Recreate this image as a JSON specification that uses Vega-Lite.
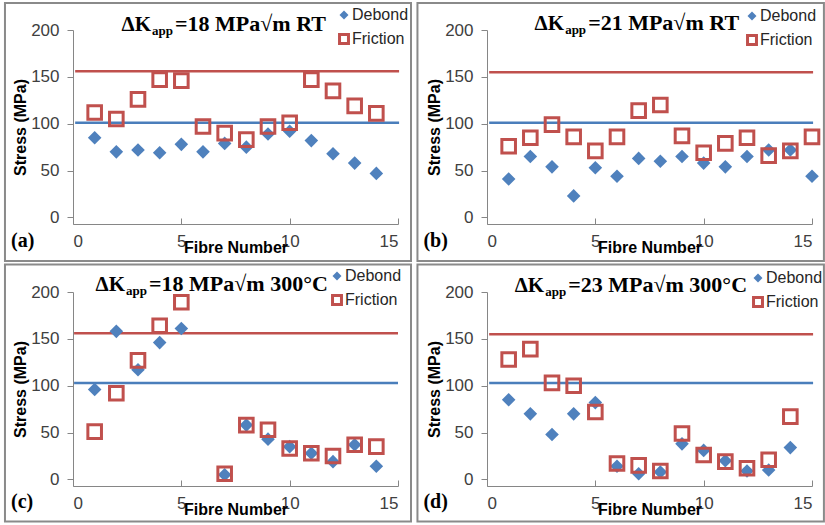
{
  "$schema": "https://vega.github.io/schema/vega-lite/v6.json",
  "background": "white",
  "padding": {"left": 3, "top": 2, "right": 0, "bottom": 0},
  "datasets": {
    "points": [
      {"panel": "a", "series": "Debond", "fibre": 1, "stress": 85},
      {"panel": "a", "series": "Debond", "fibre": 2, "stress": 70},
      {"panel": "a", "series": "Debond", "fibre": 3, "stress": 72},
      {"panel": "a", "series": "Debond", "fibre": 4, "stress": 69},
      {"panel": "a", "series": "Debond", "fibre": 5, "stress": 78},
      {"panel": "a", "series": "Debond", "fibre": 6, "stress": 70},
      {"panel": "a", "series": "Debond", "fibre": 7, "stress": 79},
      {"panel": "a", "series": "Debond", "fibre": 8, "stress": 75},
      {"panel": "a", "series": "Debond", "fibre": 9, "stress": 89},
      {"panel": "a", "series": "Debond", "fibre": 10, "stress": 92},
      {"panel": "a", "series": "Debond", "fibre": 11, "stress": 82},
      {"panel": "a", "series": "Debond", "fibre": 12, "stress": 68},
      {"panel": "a", "series": "Debond", "fibre": 13, "stress": 58},
      {"panel": "a", "series": "Debond", "fibre": 14, "stress": 47},
      {"panel": "a", "series": "Friction", "fibre": 1, "stress": 112},
      {"panel": "a", "series": "Friction", "fibre": 2, "stress": 105},
      {"panel": "a", "series": "Friction", "fibre": 3, "stress": 126},
      {"panel": "a", "series": "Friction", "fibre": 4, "stress": 147},
      {"panel": "a", "series": "Friction", "fibre": 5, "stress": 146},
      {"panel": "a", "series": "Friction", "fibre": 6, "stress": 97},
      {"panel": "a", "series": "Friction", "fibre": 7, "stress": 90},
      {"panel": "a", "series": "Friction", "fibre": 8, "stress": 83},
      {"panel": "a", "series": "Friction", "fibre": 9, "stress": 97},
      {"panel": "a", "series": "Friction", "fibre": 10, "stress": 101},
      {"panel": "a", "series": "Friction", "fibre": 11, "stress": 147},
      {"panel": "a", "series": "Friction", "fibre": 12, "stress": 135},
      {"panel": "a", "series": "Friction", "fibre": 13, "stress": 119},
      {"panel": "a", "series": "Friction", "fibre": 14, "stress": 111},
      {"panel": "b", "series": "Debond", "fibre": 1, "stress": 41},
      {"panel": "b", "series": "Debond", "fibre": 2, "stress": 65},
      {"panel": "b", "series": "Debond", "fibre": 3, "stress": 54},
      {"panel": "b", "series": "Debond", "fibre": 4, "stress": 23},
      {"panel": "b", "series": "Debond", "fibre": 5, "stress": 53},
      {"panel": "b", "series": "Debond", "fibre": 6, "stress": 44},
      {"panel": "b", "series": "Debond", "fibre": 7, "stress": 63},
      {"panel": "b", "series": "Debond", "fibre": 8, "stress": 60},
      {"panel": "b", "series": "Debond", "fibre": 9, "stress": 65},
      {"panel": "b", "series": "Debond", "fibre": 10, "stress": 58},
      {"panel": "b", "series": "Debond", "fibre": 11, "stress": 54},
      {"panel": "b", "series": "Debond", "fibre": 12, "stress": 65},
      {"panel": "b", "series": "Debond", "fibre": 13, "stress": 72},
      {"panel": "b", "series": "Debond", "fibre": 14, "stress": 72},
      {"panel": "b", "series": "Debond", "fibre": 15, "stress": 44},
      {"panel": "b", "series": "Friction", "fibre": 1, "stress": 76},
      {"panel": "b", "series": "Friction", "fibre": 2, "stress": 85},
      {"panel": "b", "series": "Friction", "fibre": 3, "stress": 99},
      {"panel": "b", "series": "Friction", "fibre": 4, "stress": 86},
      {"panel": "b", "series": "Friction", "fibre": 5, "stress": 71},
      {"panel": "b", "series": "Friction", "fibre": 6, "stress": 86},
      {"panel": "b", "series": "Friction", "fibre": 7, "stress": 114},
      {"panel": "b", "series": "Friction", "fibre": 8, "stress": 120},
      {"panel": "b", "series": "Friction", "fibre": 9, "stress": 87},
      {"panel": "b", "series": "Friction", "fibre": 10, "stress": 69},
      {"panel": "b", "series": "Friction", "fibre": 11, "stress": 79},
      {"panel": "b", "series": "Friction", "fibre": 12, "stress": 85},
      {"panel": "b", "series": "Friction", "fibre": 13, "stress": 66},
      {"panel": "b", "series": "Friction", "fibre": 14, "stress": 71},
      {"panel": "b", "series": "Friction", "fibre": 15, "stress": 86},
      {"panel": "c", "series": "Debond", "fibre": 1, "stress": 96},
      {"panel": "c", "series": "Debond", "fibre": 2, "stress": 158},
      {"panel": "c", "series": "Debond", "fibre": 3, "stress": 117},
      {"panel": "c", "series": "Debond", "fibre": 4, "stress": 146},
      {"panel": "c", "series": "Debond", "fibre": 5, "stress": 161},
      {"panel": "c", "series": "Debond", "fibre": 7, "stress": 5},
      {"panel": "c", "series": "Debond", "fibre": 8, "stress": 58},
      {"panel": "c", "series": "Debond", "fibre": 9, "stress": 43},
      {"panel": "c", "series": "Debond", "fibre": 10, "stress": 35},
      {"panel": "c", "series": "Debond", "fibre": 11, "stress": 28},
      {"panel": "c", "series": "Debond", "fibre": 12, "stress": 19},
      {"panel": "c", "series": "Debond", "fibre": 13, "stress": 37},
      {"panel": "c", "series": "Debond", "fibre": 14, "stress": 14},
      {"panel": "c", "series": "Friction", "fibre": 1, "stress": 51},
      {"panel": "c", "series": "Friction", "fibre": 2, "stress": 92},
      {"panel": "c", "series": "Friction", "fibre": 3, "stress": 127},
      {"panel": "c", "series": "Friction", "fibre": 4, "stress": 164},
      {"panel": "c", "series": "Friction", "fibre": 5, "stress": 189},
      {"panel": "c", "series": "Friction", "fibre": 7, "stress": 6},
      {"panel": "c", "series": "Friction", "fibre": 8, "stress": 58},
      {"panel": "c", "series": "Friction", "fibre": 9, "stress": 53},
      {"panel": "c", "series": "Friction", "fibre": 10, "stress": 33},
      {"panel": "c", "series": "Friction", "fibre": 11, "stress": 28},
      {"panel": "c", "series": "Friction", "fibre": 12, "stress": 25},
      {"panel": "c", "series": "Friction", "fibre": 13, "stress": 37},
      {"panel": "c", "series": "Friction", "fibre": 14, "stress": 35},
      {"panel": "d", "series": "Debond", "fibre": 1, "stress": 85},
      {"panel": "d", "series": "Debond", "fibre": 2, "stress": 70},
      {"panel": "d", "series": "Debond", "fibre": 3, "stress": 48},
      {"panel": "d", "series": "Debond", "fibre": 4, "stress": 70},
      {"panel": "d", "series": "Debond", "fibre": 5, "stress": 82},
      {"panel": "d", "series": "Debond", "fibre": 6, "stress": 14},
      {"panel": "d", "series": "Debond", "fibre": 7, "stress": 6},
      {"panel": "d", "series": "Debond", "fibre": 8, "stress": 8},
      {"panel": "d", "series": "Debond", "fibre": 9, "stress": 38},
      {"panel": "d", "series": "Debond", "fibre": 10, "stress": 31},
      {"panel": "d", "series": "Debond", "fibre": 11, "stress": 20},
      {"panel": "d", "series": "Debond", "fibre": 12, "stress": 9},
      {"panel": "d", "series": "Debond", "fibre": 13, "stress": 10},
      {"panel": "d", "series": "Debond", "fibre": 14, "stress": 34},
      {"panel": "d", "series": "Friction", "fibre": 1, "stress": 128},
      {"panel": "d", "series": "Friction", "fibre": 2, "stress": 139},
      {"panel": "d", "series": "Friction", "fibre": 3, "stress": 103},
      {"panel": "d", "series": "Friction", "fibre": 4, "stress": 100},
      {"panel": "d", "series": "Friction", "fibre": 5, "stress": 72},
      {"panel": "d", "series": "Friction", "fibre": 6, "stress": 17},
      {"panel": "d", "series": "Friction", "fibre": 7, "stress": 15},
      {"panel": "d", "series": "Friction", "fibre": 8, "stress": 9},
      {"panel": "d", "series": "Friction", "fibre": 9, "stress": 49},
      {"panel": "d", "series": "Friction", "fibre": 10, "stress": 26},
      {"panel": "d", "series": "Friction", "fibre": 11, "stress": 19},
      {"panel": "d", "series": "Friction", "fibre": 12, "stress": 12},
      {"panel": "d", "series": "Friction", "fibre": 13, "stress": 21},
      {"panel": "d", "series": "Friction", "fibre": 14, "stress": 67}
    ],
    "lines": [
      {"panel": "a", "series": "Debond", "stress": 101},
      {"panel": "a", "series": "Friction", "stress": 156},
      {"panel": "b", "series": "Debond", "stress": 101},
      {"panel": "b", "series": "Friction", "stress": 155},
      {"panel": "c", "series": "Debond", "stress": 103},
      {"panel": "c", "series": "Friction", "stress": 156},
      {"panel": "d", "series": "Debond", "stress": 103},
      {"panel": "d", "series": "Friction", "stress": 155}
    ],
    "titles": [
      {"panel": "a", "rest": "=18 MPa√m RT"},
      {"panel": "b", "rest": "=21 MPa√m RT"},
      {"panel": "c", "rest": "=18 MPa√m 300°C"},
      {"panel": "d", "rest": "=23 MPa√m 300°C"}
    ]
  },
  "config": {
    "view": {"stroke": null},
    "axis": {
      "grid": false,
      "domainColor": "#868686",
      "tickColor": "#868686",
      "labelFont": "Liberation Sans",
      "labelFontSize": 17,
      "labelColor": "#404040",
      "titleFont": "Liberation Sans",
      "titleFontSize": 16,
      "titleFontWeight": "bold",
      "titleColor": "black"
    },
    "legend": {
      "orient": "none",
      "title": null,
      "labelFont": "Liberation Sans",
      "labelFontSize": 16,
      "labelColor": "#262626",
      "rowPadding": 2,
      "labelOffset": 0,
      "symbolSize": 80,
      "symbolStrokeWidth": 3,
      "padding": 0
    },
    "title": {
      "font": "Liberation Serif",
      "fontSize": 20,
      "fontWeight": "bold",
      "color": "black",
      "orient": "bottom",
      "anchor": "start",
      "frame": "bounds",
      "offset": -31
    }
  },
  "columns": 2,
  "bounds": "flush",
  "spacing": {"row": 68, "column": 89},
  "resolve": {"legend": {"fill": "independent", "stroke": "independent", "shape": "independent"}},
  "concat": [
    {
      "width": 325, "height": 194,
      "title": {"text": "(a)", "dx": 7},
      "layer": [
        {
          "data": {"name": "titles"},
          "transform": [{"filter": "datum.panel === 'a'"}],
          "mark": {"type": "rect", "fillOpacity": 0, "stroke": "#8A8A8A", "strokeWidth": 2},
          "encoding": {"x": {"datum": -3.14, "type": "quantitative"}, "x2": {"datum": 15.6}, "y": {"datum": 228.8, "type": "quantitative"}, "y2": {"datum": -46.5}}
        },
        {
          "data": {"name": "lines"},
          "transform": [{"filter": "datum.panel === 'a'"}],
          "mark": {"type": "rule", "strokeWidth": 2.5},
          "encoding": {
            "x": {"datum": 0.1, "type": "quantitative"},
            "x2": {"datum": 15.05},
            "y": {"field": "stress", "type": "quantitative"},
            "color": {"field": "series", "type": "nominal", "scale": {"domain": ["Debond", "Friction"], "range": ["#4A7EBB", "#C0504D"]}, "legend": null}
          }
        },
        {
          "data": {"name": "points"},
          "transform": [{"filter": "datum.panel === 'a'"}],
          "mark": {"type": "point", "opacity": 1, "strokeWidth": 3, "size": 185},
          "encoding": {
            "x": {"field": "fibre", "type": "quantitative", "scale": {"domain": [0, 15], "nice": false},
                  "axis": {"values": [0, 5, 10, 15], "title": "Fibre Number", "tickSize": -6, "labelPadding": 15, "titlePadding": -10}},
            "y": {"field": "stress", "type": "quantitative", "scale": {"domain": [-7, 200], "nice": false},
                  "axis": {"values": [0, 50, 100, 150, 200], "title": "Stress (MPa)", "tickSize": 6, "labelPadding": 8, "titlePadding": 2}},
            "shape": {"field": "series", "type": "nominal", "scale": {"domain": ["Debond", "Friction"], "range": ["diamond", "square"]},
                      "legend": {"legendX": 263, "legendY": -23}},
            "fill": {"field": "series", "type": "nominal", "scale": {"domain": ["Debond", "Friction"], "range": ["#4F81BD", "transparent"]}},
            "stroke": {"field": "series", "type": "nominal", "scale": {"domain": ["Debond", "Friction"], "range": ["transparent", "#C0504D"]}}
          }
        },
        {
          "data": {"name": "titles"},
          "transform": [{"filter": "datum.panel === 'a'"}],
          "mark": {"type": "text", "font": "Liberation Serif", "fontSize": 21, "fontWeight": "bold", "align": "right", "baseline": "alphabetic", "color": "black"},
          "encoding": {"x": {"datum": 3.6}, "y": {"datum": 198.5}, "text": {"value": "ΔK"}}
        },
        {
          "data": {"name": "titles"},
          "transform": [{"filter": "datum.panel === 'a'"}],
          "mark": {"type": "text", "font": "Liberation Serif", "fontSize": 13, "fontWeight": "bold", "align": "left", "baseline": "alphabetic", "color": "black", "dx": 1, "dy": 4},
          "encoding": {"x": {"datum": 3.6}, "y": {"datum": 198.5}, "text": {"value": "app"}}
        },
        {
          "data": {"name": "titles"},
          "transform": [{"filter": "datum.panel === 'a'"}],
          "mark": {"type": "text", "font": "Liberation Serif", "fontSize": 22, "fontWeight": "bold", "align": "left", "baseline": "alphabetic", "color": "black", "dx": 24},
          "encoding": {"x": {"datum": 3.6}, "y": {"datum": 198.5}, "text": {"field": "rest"}}
        }
      ]
    },
    {
      "width": 325, "height": 194,
      "title": {"text": "(b)", "dx": 7},
      "layer": [
        {
          "data": {"name": "titles"},
          "transform": [{"filter": "datum.panel === 'b'"}],
          "mark": {"type": "rect", "fillOpacity": 0, "stroke": "#8A8A8A", "strokeWidth": 2},
          "encoding": {"x": {"datum": -3.21, "type": "quantitative"}, "x2": {"datum": 15.55}, "y": {"datum": 228.8, "type": "quantitative"}, "y2": {"datum": -46.5}}
        },
        {
          "data": {"name": "lines"},
          "transform": [{"filter": "datum.panel === 'b'"}],
          "mark": {"type": "rule", "strokeWidth": 2.5},
          "encoding": {
            "x": {"datum": 0.1, "type": "quantitative"},
            "x2": {"datum": 15.05},
            "y": {"field": "stress", "type": "quantitative"},
            "color": {"field": "series", "type": "nominal", "scale": {"domain": ["Debond", "Friction"], "range": ["#4A7EBB", "#C0504D"]}, "legend": null}
          }
        },
        {
          "data": {"name": "points"},
          "transform": [{"filter": "datum.panel === 'b'"}],
          "mark": {"type": "point", "opacity": 1, "strokeWidth": 3, "size": 185},
          "encoding": {
            "x": {"field": "fibre", "type": "quantitative", "scale": {"domain": [0, 15], "nice": false},
                  "axis": {"values": [0, 5, 10, 15], "title": "Fibre Number", "tickSize": -6, "labelPadding": 15, "titlePadding": -10}},
            "y": {"field": "stress", "type": "quantitative", "scale": {"domain": [-7, 200], "nice": false},
                  "axis": {"values": [0, 50, 100, 150, 200], "title": "Stress (MPa)", "tickSize": 6, "labelPadding": 8, "titlePadding": 2}},
            "shape": {"field": "series", "type": "nominal", "scale": {"domain": ["Debond", "Friction"], "range": ["diamond", "square"]},
                      "legend": {"legendX": 257, "legendY": -22}},
            "fill": {"field": "series", "type": "nominal", "scale": {"domain": ["Debond", "Friction"], "range": ["#4F81BD", "transparent"]}},
            "stroke": {"field": "series", "type": "nominal", "scale": {"domain": ["Debond", "Friction"], "range": ["transparent", "#C0504D"]}}
          }
        },
        {
          "data": {"name": "titles"},
          "transform": [{"filter": "datum.panel === 'b'"}],
          "mark": {"type": "text", "font": "Liberation Serif", "fontSize": 21, "fontWeight": "bold", "align": "right", "baseline": "alphabetic", "color": "black"},
          "encoding": {"x": {"datum": 3.56}, "y": {"datum": 199.5}, "text": {"value": "ΔK"}}
        },
        {
          "data": {"name": "titles"},
          "transform": [{"filter": "datum.panel === 'b'"}],
          "mark": {"type": "text", "font": "Liberation Serif", "fontSize": 13, "fontWeight": "bold", "align": "left", "baseline": "alphabetic", "color": "black", "dx": 1, "dy": 4},
          "encoding": {"x": {"datum": 3.56}, "y": {"datum": 199.5}, "text": {"value": "app"}}
        },
        {
          "data": {"name": "titles"},
          "transform": [{"filter": "datum.panel === 'b'"}],
          "mark": {"type": "text", "font": "Liberation Serif", "fontSize": 22, "fontWeight": "bold", "align": "left", "baseline": "alphabetic", "color": "black", "dx": 24},
          "encoding": {"x": {"datum": 3.56}, "y": {"datum": 199.5}, "text": {"field": "rest"}}
        }
      ]
    },
    {
      "width": 325, "height": 194,
      "title": {"text": "(c)", "dx": 7},
      "layer": [
        {
          "data": {"name": "titles"},
          "transform": [{"filter": "datum.panel === 'c'"}],
          "mark": {"type": "rect", "fillOpacity": 0, "stroke": "#8A8A8A", "strokeWidth": 2},
          "encoding": {"x": {"datum": -3.14, "type": "quantitative"}, "x2": {"datum": 15.6}, "y": {"datum": 229.3, "type": "quantitative"}, "y2": {"datum": -45}}
        },
        {
          "data": {"name": "lines"},
          "transform": [{"filter": "datum.panel === 'c'"}],
          "mark": {"type": "rule", "strokeWidth": 2.5},
          "encoding": {
            "x": {"datum": 0.05, "type": "quantitative"},
            "x2": {"datum": 15},
            "y": {"field": "stress", "type": "quantitative"},
            "color": {"field": "series", "type": "nominal", "scale": {"domain": ["Debond", "Friction"], "range": ["#4A7EBB", "#C0504D"]}, "legend": null}
          }
        },
        {
          "data": {"name": "points"},
          "transform": [{"filter": "datum.panel === 'c'"}],
          "mark": {"type": "point", "opacity": 1, "strokeWidth": 3, "size": 185},
          "encoding": {
            "x": {"field": "fibre", "type": "quantitative", "scale": {"domain": [0, 15], "nice": false},
                  "axis": {"values": [0, 5, 10, 15], "title": "Fibre Number", "tickSize": -6, "labelPadding": 15, "titlePadding": -10}},
            "y": {"field": "stress", "type": "quantitative", "scale": {"domain": [-7, 200], "nice": false},
                  "axis": {"values": [0, 50, 100, 150, 200], "title": "Stress (MPa)", "tickSize": 6, "labelPadding": 8, "titlePadding": 2}},
            "shape": {"field": "series", "type": "nominal", "scale": {"domain": ["Debond", "Friction"], "range": ["diamond", "square"]},
                      "legend": {"legendX": 256, "legendY": -24}},
            "fill": {"field": "series", "type": "nominal", "scale": {"domain": ["Debond", "Friction"], "range": ["#4F81BD", "transparent"]}},
            "stroke": {"field": "series", "type": "nominal", "scale": {"domain": ["Debond", "Friction"], "range": ["transparent", "#C0504D"]}}
          }
        },
        {
          "data": {"name": "titles"},
          "transform": [{"filter": "datum.panel === 'c'"}],
          "mark": {"type": "text", "font": "Liberation Serif", "fontSize": 21, "fontWeight": "bold", "align": "right", "baseline": "alphabetic", "color": "black"},
          "encoding": {"x": {"datum": 2.4}, "y": {"datum": 201}, "text": {"value": "ΔK"}}
        },
        {
          "data": {"name": "titles"},
          "transform": [{"filter": "datum.panel === 'c'"}],
          "mark": {"type": "text", "font": "Liberation Serif", "fontSize": 13, "fontWeight": "bold", "align": "left", "baseline": "alphabetic", "color": "black", "dx": 1, "dy": 4},
          "encoding": {"x": {"datum": 2.4}, "y": {"datum": 201}, "text": {"value": "app"}}
        },
        {
          "data": {"name": "titles"},
          "transform": [{"filter": "datum.panel === 'c'"}],
          "mark": {"type": "text", "font": "Liberation Serif", "fontSize": 22, "fontWeight": "bold", "align": "left", "baseline": "alphabetic", "color": "black", "dx": 24},
          "encoding": {"x": {"datum": 2.4}, "y": {"datum": 201}, "text": {"field": "rest"}}
        }
      ]
    },
    {
      "width": 325, "height": 194,
      "title": {"text": "(d)", "dx": 7},
      "layer": [
        {
          "data": {"name": "titles"},
          "transform": [{"filter": "datum.panel === 'd'"}],
          "mark": {"type": "rect", "fillOpacity": 0, "stroke": "#8A8A8A", "strokeWidth": 2},
          "encoding": {"x": {"datum": -3.21, "type": "quantitative"}, "x2": {"datum": 15.55}, "y": {"datum": 229.3, "type": "quantitative"}, "y2": {"datum": -45}}
        },
        {
          "data": {"name": "lines"},
          "transform": [{"filter": "datum.panel === 'd'"}],
          "mark": {"type": "rule", "strokeWidth": 2.5},
          "encoding": {
            "x": {"datum": 0.1, "type": "quantitative"},
            "x2": {"datum": 15.05},
            "y": {"field": "stress", "type": "quantitative"},
            "color": {"field": "series", "type": "nominal", "scale": {"domain": ["Debond", "Friction"], "range": ["#4A7EBB", "#C0504D"]}, "legend": null}
          }
        },
        {
          "data": {"name": "points"},
          "transform": [{"filter": "datum.panel === 'd'"}],
          "mark": {"type": "point", "opacity": 1, "strokeWidth": 3, "size": 185},
          "encoding": {
            "x": {"field": "fibre", "type": "quantitative", "scale": {"domain": [0, 15], "nice": false},
                  "axis": {"values": [0, 5, 10, 15], "title": "Fibre Number", "tickSize": -6, "labelPadding": 15, "titlePadding": -10}},
            "y": {"field": "stress", "type": "quantitative", "scale": {"domain": [-7, 200], "nice": false},
                  "axis": {"values": [0, 50, 100, 150, 200], "title": "Stress (MPa)", "tickSize": 6, "labelPadding": 8, "titlePadding": 2}},
            "shape": {"field": "series", "type": "nominal", "scale": {"domain": ["Debond", "Friction"], "range": ["diamond", "square"]},
                      "legend": {"legendX": 263, "legendY": -22}},
            "fill": {"field": "series", "type": "nominal", "scale": {"domain": ["Debond", "Friction"], "range": ["#4F81BD", "transparent"]}},
            "stroke": {"field": "series", "type": "nominal", "scale": {"domain": ["Debond", "Friction"], "range": ["transparent", "#C0504D"]}}
          }
        },
        {
          "data": {"name": "titles"},
          "transform": [{"filter": "datum.panel === 'd'"}],
          "mark": {"type": "text", "font": "Liberation Serif", "fontSize": 21, "fontWeight": "bold", "align": "right", "baseline": "alphabetic", "color": "black"},
          "encoding": {"x": {"datum": 2.64}, "y": {"datum": 199.5}, "text": {"value": "ΔK"}}
        },
        {
          "data": {"name": "titles"},
          "transform": [{"filter": "datum.panel === 'd'"}],
          "mark": {"type": "text", "font": "Liberation Serif", "fontSize": 13, "fontWeight": "bold", "align": "left", "baseline": "alphabetic", "color": "black", "dx": 1, "dy": 4},
          "encoding": {"x": {"datum": 2.64}, "y": {"datum": 199.5}, "text": {"value": "app"}}
        },
        {
          "data": {"name": "titles"},
          "transform": [{"filter": "datum.panel === 'd'"}],
          "mark": {"type": "text", "font": "Liberation Serif", "fontSize": 22, "fontWeight": "bold", "align": "left", "baseline": "alphabetic", "color": "black", "dx": 24},
          "encoding": {"x": {"datum": 2.64}, "y": {"datum": 199.5}, "text": {"field": "rest"}}
        }
      ]
    }
  ]
}
